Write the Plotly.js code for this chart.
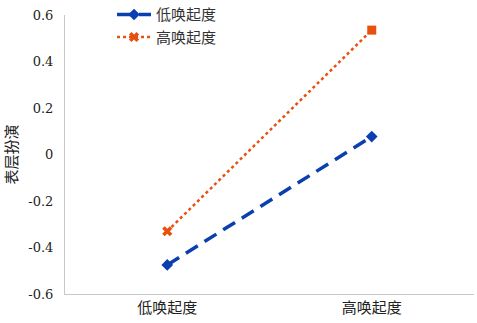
<!DOCTYPE html>
<html><head><meta charset="utf-8">
<script src="https://cdn.plot.ly/plotly-3.0.1.min.js"></script>
<style>html,body{margin:0;padding:0;background:#fff}</style>
</head><body><div id="c" style="width:477px;height:323px"></div>
<script>
const categories = ['低唤起度', '高唤起度'];
const lowArousal = [-0.475, 0.077];
const highArousal = [-0.33, 0.535];
const seriesNames = ['低唤起度', '高唤起度'];
const yTicks = [-0.6, -0.4, -0.2, 0, 0.2, 0.4, 0.6];
const yTickText = ['-0.6', '-0.4', '-0.2', '0', '0.2', '0.4', '0.6'];
const yTitle = '表层扮演';

const numFont = "DejaVu Serif";
const cjkFont = "Noto Sans CJK SC";
const data = [
  {x: categories, y: lowArousal, name: seriesNames[0], type: 'scatter', mode: 'lines+markers',
   line: {color: '#0A3FB0', width: 3.5, dash: '14px,8px'},
   marker: {symbol: 'diamond', size: 9, color: '#0A3FB0'}},
  {x: categories, y: highArousal, name: seriesNames[1], type: 'scatter', mode: 'lines+markers',
   line: {color: '#E8500E', width: 2.5, dash: 'dot'},
   marker: {symbol: ['x', 'square'], size: 9, color: '#E8500E'}}
];
const layout = {
  width: 477, height: 323,
  margin: {l: 65, r: 3, t: 15, b: 29, autoexpand: false},
  paper_bgcolor: '#fff', plot_bgcolor: '#fff',
  font: {family: cjkFont, size: 13, color: '#222'},
  showlegend: true,
  legend: {x: 0.115, y: 1.06, xanchor: 'left', yanchor: 'top', bgcolor: 'rgba(0,0,0,0)',
           font: {family: cjkFont, size: 15, color: '#333'}, itemwidth: 34},
  xaxis: {type: 'category', range: [-0.5, 1.5], showline: true, linecolor: '#c8c8c8', linewidth: 1,
          showgrid: false, ticks: '', tickfont: {family: cjkFont, size: 15, color: '#222'}, zeroline: false},
  yaxis: {range: [-0.6, 0.6], tickvals: yTicks, ticktext: yTickText, showline: true, linecolor: '#c8c8c8',
          linewidth: 1, showgrid: false, zeroline: false, ticks: 'outside', ticklen: 8, tickcolor: 'rgba(0,0,0,0)',
          tickfont: {family: numFont, size: 13, color: '#222'},
          title: {text: yTitle, font: {family: cjkFont, size: 15, color: '#222'}, standoff: 16}}
};
Plotly.newPlot('c', data, layout, {displayModeBar: false, staticPlot: true});
</script></body></html>
